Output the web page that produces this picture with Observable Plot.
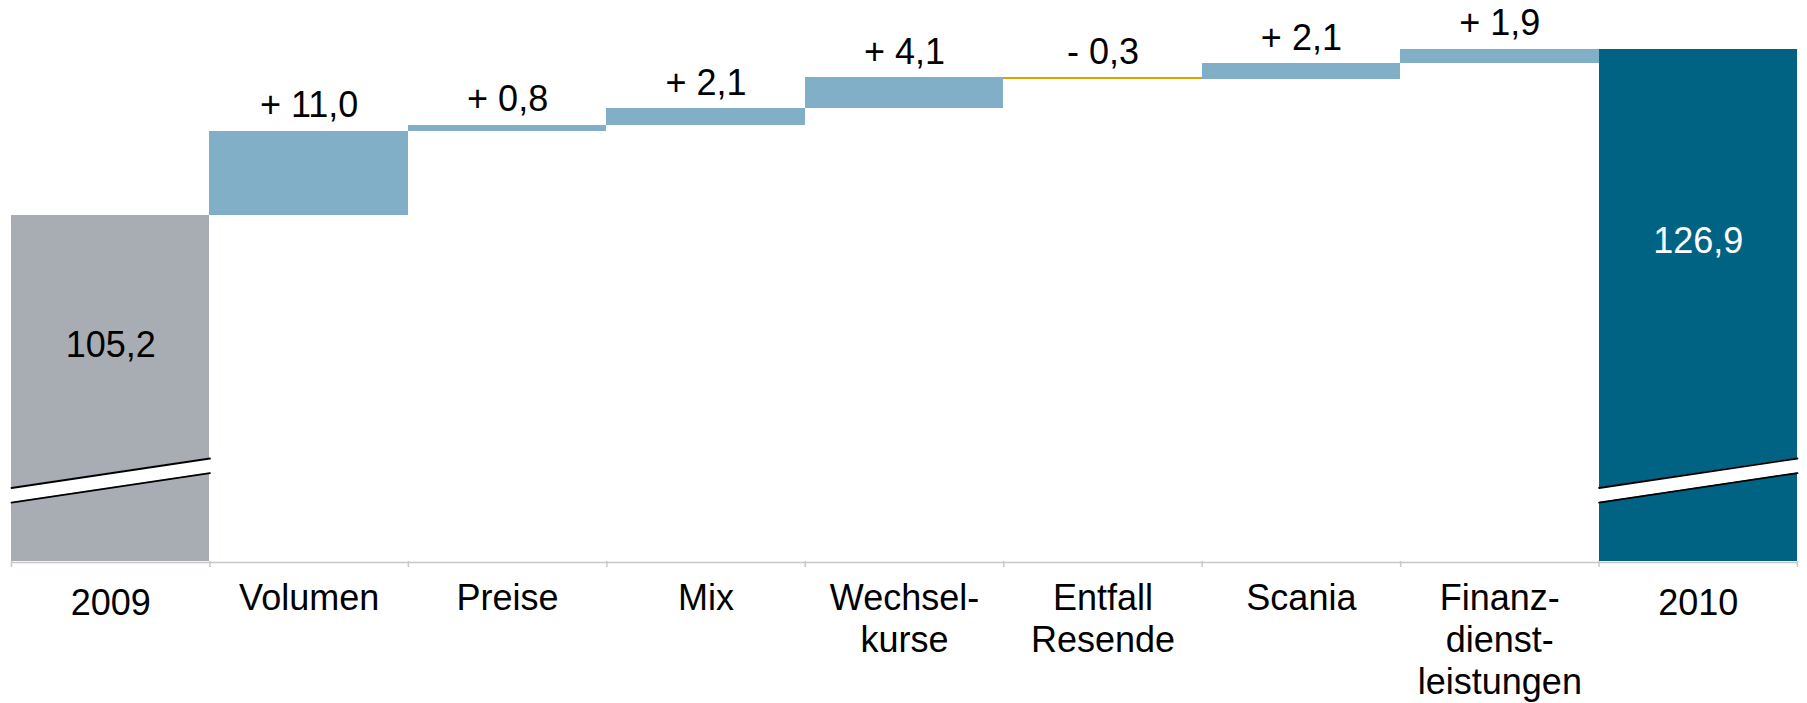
<!DOCTYPE html>
<html><head><meta charset="utf-8">
<script src="https://cdn.jsdelivr.net/npm/d3@7"></script>
<script src="https://cdn.jsdelivr.net/npm/@observablehq/plot@0.6"></script>
<style>html,body{margin:0;padding:0;background:#fff;overflow:hidden}</style>
</head><body><div id="chart"></div>
<script>
// ---- data ----
const categories = ["2009", "Volumen", "Preise", "Mix", "Wechsel-\nkurse", "Entfall\nResende", "Scania", "Finanz-\ndienst-\nleistungen", "2010"];
const kinds = ["start", "delta", "delta", "delta", "delta", "delta", "delta", "delta", "total"];
const values = [105.2, 11.0, 0.8, 2.1, 4.1, -0.3, 2.1, 1.9, 126.9];
const axisBase = 60;          // broken value axis starts here
const axisTop = 130;
const breakLow = 67.7;        // axis-break marks (value units)
const breakGap = 1.9;
const breakRise = 3.85;

// ---- colours ----
const colStart = "#a8acb3", colUp = "#81afc7", colDown = "#d9a300", colTotal = "#006384";

// ---- derived rows ----
let cum = 0;
const rows = categories.map((cat, i) => {
  const kind = kinds[i], v = values[i];
  let y1, y2;
  if (kind === "start") { y1 = axisBase; y2 = v; cum = v; }
  else if (kind === "total") { y1 = axisBase; y2 = v; }
  else { y1 = cum; y2 = cum + v; cum += v; }
  const fill = kind === "start" ? colStart : kind === "total" ? colTotal : v >= 0 ? colUp : colDown;
  return {i, cat, kind, value: v, y1, y2, fill};
});
const deltas = rows.filter(d => d.kind === "delta");
const totals = rows.filter(d => d.kind !== "delta");
const fmtNum = v => Math.abs(v).toFixed(1).replace(".", ",");
const fmtDelta = v => (v >= 0 ? "+ " : "- ") + fmtNum(v);

const breakPts = totals.flatMap(d => [
  {bar: d.i, x: d.i, lo: breakLow, hi: breakLow + breakGap},
  {bar: d.i, x: d.i + 1, lo: breakLow + breakRise, hi: breakLow + breakGap + breakRise}
]);

const font = "'Liberation Sans', Arial, Helvetica, sans-serif";

const chart = Plot.plot({
  width: 1807,
  height: 703,
  marginLeft: 11,
  marginRight: 10,
  marginTop: 25,
  marginBottom: 142,
  style: {fontFamily: font, fontSize: "36px", background: "#fff", overflow: "visible"},
  x: {domain: [0, categories.length]},
  y: {domain: [axisBase, axisTop], axis: null},
  color: {type: "identity"},
  marks: [
    Plot.rect(rows, {x1: "i", x2: d => d.i + 1, y1: "y1", y2: "y2", fill: "fill", shapeRendering: "crispEdges"}),
    Plot.areaY(breakPts, {x: "x", y1: "lo", y2: "hi", z: "bar", fill: "white"}),
    Plot.line(breakPts, {x: "x", y: "lo", z: "bar", stroke: "black", strokeWidth: 1.8}),
    Plot.line(breakPts, {x: "x", y: "hi", z: "bar", stroke: "black", strokeWidth: 1.8}),
    Plot.ruleY([axisBase], {stroke: "#c8c8c8", strokeWidth: 1.5, dy: 1}),
    Plot.axisX({ticks: d3.range(categories.length + 1), tickFormat: () => "", tickSize: 6,
      stroke: "#c8c8c8", strokeWidth: 1.5, strokeOpacity: 1, label: null}),
    Plot.text(deltas, {x: d => d.i + 0.5, y: d => Math.max(d.y1, d.y2), text: d => fmtDelta(d.value),
      dy: -14, lineAnchor: "bottom", fontSize: 36, fill: "black"}),
    Plot.text(totals, {x: d => d.i + 0.5, y: d => axisBase + 0.625 * (d.value - axisBase), text: d => fmtNum(d.value),
      lineAnchor: "middle", fontSize: 36, fill: d => d.kind === "total" ? "white" : "black"}),
    Plot.text(deltas, {x: d => d.i + 0.5, frameAnchor: "bottom", text: "cat", lineAnchor: "top",
      dy: 18.5, fontSize: 36, lineHeight: 1.17, fill: "black"}),
    Plot.text(totals, {x: d => d.i + 0.5, frameAnchor: "bottom", text: "cat", lineAnchor: "top",
      dy: 23.5, fontSize: 36, lineHeight: 1.17, fill: "black"})
  ]
});
document.getElementById("chart").appendChild(chart);
</script>
</body></html>
